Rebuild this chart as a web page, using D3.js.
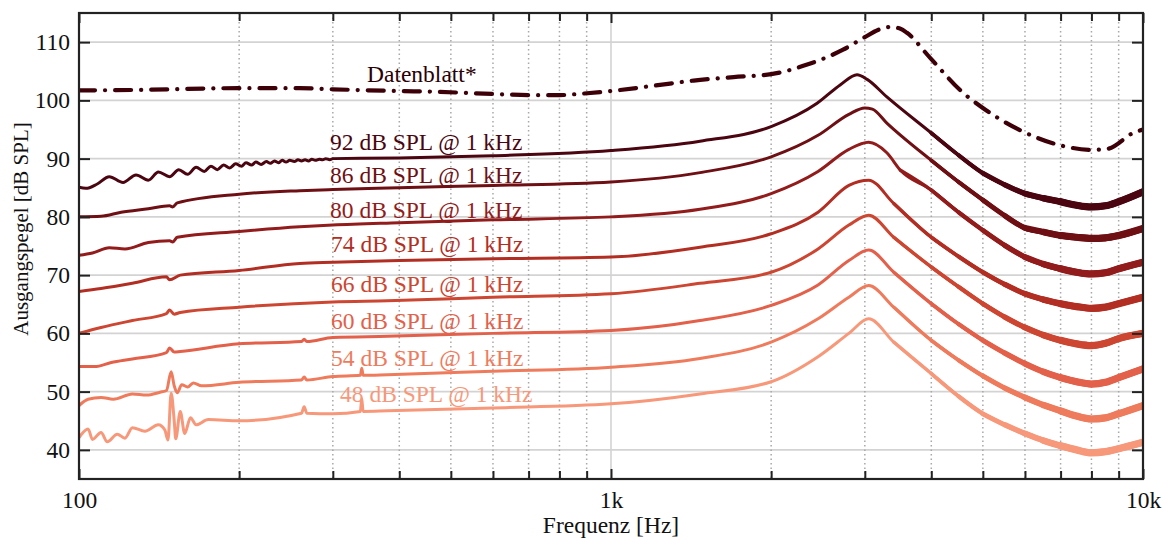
<!DOCTYPE html>
<html>
<head>
<meta charset="utf-8">
<script src="https://cdn.jsdelivr.net/npm/d3@7"></script>
<style>
  html, body { margin: 0; padding: 0; background: #fff; }
  svg { display: block; font-family: "Liberation Serif", "Times New Roman", serif; }
</style>
</head>
<body>
<svg id="chart" width="1165" height="540"></svg>
<script>
// ---------------- data ----------------
const xMajorTicks = [100, 1000, 10000];
const xMajorLabels = ["100", "1k", "10k"];
const xMinorTicks = [200, 300, 400, 500, 600, 700, 800, 900, 2000, 3000, 4000, 5000, 6000, 7000, 8000, 9000];
const yTicks = [40, 50, 60, 70, 80, 90, 100, 110];

const datenblatt = [[100,101.7],[130,101.8],[200,102.1],[260,102.1],[300,101.9],[400,101.6],[460,101.5],[600,101.1],[714,100.9],[800,100.9],[866,101.1],[1000,101.6],[1200,102.5],[1430,103.4],[1700,104.0],[2000,104.5],[2330,106.1],[2730,108.7],[2980,110.7],[3200,112.2],[3350,112.6],[3500,112.3],[3600,111.6],[3980,107.3],[4590,101.3],[5000,98.7],[5870,94.9],[6980,92.3],[8050,91.5],[8600,91.7],[9580,94.4],[10000,95.0]];

const spl92 = [[100,85.1],[103,84.9],[108,85.6],[114,86.9],[121,85.9],[128,87.2],[135,86.3],[141,87.7],[148,86.9],[154,88.1],[160,87.3],[166,88.5],[172,87.8],[177,88.7],[182,88.1],[187,88.9],[192,88.4],[197,89.1],[202,88.7],[206,89.3],[211,88.9],[215,89.4],[220,89.0],[225,89.5],[229,89.2],[233,89.6],[237,89.3],[241,89.7],[245,89.4],[249,89.7],[254,89.5],[258,89.8],[262,89.6],[266,89.8],[270,89.6],[274,89.9],[278,89.7],[283,89.9],[287,89.8],[291,90.0],[296,89.8],[300,90.0],[400,90.1],[600,90.5],[1000,91.4],[1470,93.0],[2000,95.5],[2440,99.5],[2700,102.7],[2900,104.4],[3030,103.6],[3300,100.6],[4000,94.4],[4500,90.6],[5000,87.5],[5500,85.5],[6000,84.0],[6500,83.2],[7000,82.6],[7500,82.0],[8000,81.7],[8500,81.9],[9000,82.6],[10000,84.3]];

const spl86 = [[100,80.0],[110,80.1],[120,80.8],[135,81.4],[148,81.9],[150,81.7],[153,82.4],[200,83.9],[260,84.5],[300,84.7],[400,85.0],[600,85.4],[1000,86.0],[1470,87.6],[2000,90.3],[2450,94.0],[2800,97.6],[3000,98.7],[3100,98.5],[3300,96.1],[4000,89.7],[4500,86.0],[5000,82.9],[5500,80.2],[6000,78.1],[6500,77.4],[7000,76.8],[7500,76.5],[8000,76.3],[8500,76.4],[9000,76.8],[10000,78.0]];

const spl80 = [[100,73.4],[106,73.8],[114,74.7],[122,74.5],[135,75.6],[148,75.9],[150,75.7],[153,76.5],[200,77.5],[260,78.3],[300,78.6],[400,79.0],[600,79.5],[1000,80.0],[1470,81.3],[2000,84.0],[2450,87.8],[2800,91.6],[3050,92.8],[3300,91.0],[3500,88.0],[4000,84.6],[4500,80.8],[5000,77.7],[5500,75.1],[6000,73.1],[6500,71.9],[7000,71.1],[7500,70.5],[8000,70.2],[8500,70.4],[9000,71.1],[10000,72.2]];

const spl74 = [[100,67.2],[110,67.7],[126,68.6],[146,69.7],[148,69.2],[155,70.0],[200,70.8],[260,72.0],[300,72.2],[400,72.5],[600,72.8],[1000,73.1],[1470,74.8],[2000,77.1],[2450,80.8],[2800,85.4],[3050,86.3],[3400,82.3],[4000,76.5],[4500,73.2],[5000,70.5],[5500,68.4],[6000,66.8],[6500,65.8],[7000,65.1],[7500,64.6],[8000,64.3],[8500,64.5],[9000,65.1],[10000,66.2]];

const spl66 = [[100,60.0],[110,61.0],[126,62.2],[146,63.4],[148,64.0],[151,63.3],[155,63.6],[200,64.5],[300,65.4],[380,65.6],[600,66.2],[1000,66.8],[1470,68.6],[2000,70.5],[2450,74.5],[2800,78.6],[3050,80.3],[3400,76.5],[4000,71.4],[4500,68.0],[5000,65.1],[5500,62.8],[6000,61.0],[6500,59.7],[7000,58.8],[7500,58.2],[8000,57.9],[8500,58.3],[9000,59.1],[10000,60.0]];

const spl60 = [[100,54.3],[107,54.3],[115,55.0],[126,55.6],[146,56.7],[148,57.5],[151,56.8],[155,56.9],[200,58.2],[262,58.6],[265,59.0],[268,58.6],[300,59.3],[380,59.5],[600,60.0],[1000,60.5],[1470,62.2],[2000,64.8],[2450,68.3],[2800,72.5],[3050,74.3],[3400,70.5],[4000,65.1],[4500,61.6],[5000,58.8],[5500,56.6],[6000,54.8],[6500,53.4],[7000,52.4],[7500,51.7],[8000,51.3],[8500,51.6],[9000,52.4],[10000,53.9]];

const spl54 = [[100,47.6],[104,48.7],[110,49.0],[116,48.7],[126,49.6],[134,49.4],[142,49.9],[146,50.2],[149,53.4],[151,51.0],[153,49.8],[156,51.2],[160,50.8],[164,51.5],[170,51.0],[200,51.6],[262,52.0],[265,52.5],[268,52.0],[300,52.6],[338,52.8],[340,54.0],[342,52.8],[380,52.9],[600,53.5],[1000,54.2],[1470,55.7],[2000,58.5],[2450,62.5],[2800,66.2],[3050,68.2],[3400,64.5],[4000,58.8],[4500,55.4],[5000,52.7],[5500,50.6],[6000,49.0],[6500,47.7],[7000,46.7],[7500,45.8],[8000,45.3],[8500,45.5],[9000,46.2],[10000,47.6]];

const spl48 = [[100,42.1],[104,43.6],[106,41.8],[110,43.0],[113,41.4],[118,42.7],[122,42.0],[126,43.8],[133,43.2],[141,44.3],[145,43.4],[147,41.7],[149,49.7],[151,45.0],[152,41.9],[155,46.6],[158,42.8],[162,45.5],[166,44.3],[175,45.2],[200,45.0],[262,46.3],[265,47.4],[268,46.3],[300,46.2],[338,46.6],[340,48.8],[342,46.6],[380,46.7],[600,47.2],[1000,47.9],[1470,49.6],[2000,51.7],[2450,56.0],[2800,60.0],[3050,62.5],[3400,58.5],[4000,53.1],[4500,49.2],[5000,46.2],[5500,44.3],[6000,42.8],[6500,41.6],[7000,40.7],[7500,40.0],[8000,39.5],[8500,39.7],[9000,40.2],[10000,41.3]];

const seriesNames = ["92 dB SPL @ 1 kHz", "86 dB SPL @ 1 kHz", "80 dB SPL @ 1 kHz", "74 dB SPL @ 1 kHz",
                     "66 dB SPL @ 1 kHz", "60 dB SPL @ 1 kHz", "54 dB SPL @ 1 kHz", "48 dB SPL @ 1 kHz"];
const seriesData = [spl92, spl86, spl80, spl74, spl66, spl60, spl54, spl48];
const datenblattName = "Datenblatt*";

// ---------------- styles / layout ----------------
const seriesColors = ["#4a0510", "#6e0f14", "#921b1b", "#b22e23", "#cc4632", "#e3604a", "#ef7b5d", "#f7987a"];
const datenblattColor = "#3d0008";
const labelPos = [[330,150],[330,183],[330,218],[331,252],[331,292],[331,329],[331,366],[340,402]];
const datenblattPos = [367, 82];
// measured thickness of the noisy high-frequency band (from frequency, stroke width)
const noiseBands = [[3400, 3.3], [4000, 3.7], [4500, 4.2], [5000, 4.8], [5500, 5.4], [6000, 6.0], [6500, 6.6], [7000, 7.2]];

const W = 1165, H = 540;
const m = { left: 79, right: W - 1143, top: 13, bottom: H - 479 };
const iw = W - m.left - m.right, ih = H - m.top - m.bottom;
const FONT = 23.5;

const svg = d3.select("#chart");
const g = svg.append("g").attr("transform", `translate(${m.left},${m.top})`);

const x = d3.scaleLog().domain([100, 10000]).range([0, iw]);
const y = d3.scaleLinear().domain([35, 115]).range([ih, 0]);

// grid
g.append("g").selectAll("line").data(yTicks).join("line")
  .attr("x1", 0).attr("x2", iw).attr("y1", d => y(d)).attr("y2", d => y(d))
  .attr("stroke", "#d3d3d3").attr("stroke-width", 1.6);
g.append("g").selectAll("line").data(xMinorTicks).join("line")
  .attr("x1", d => x(d)).attr("x2", d => x(d)).attr("y1", 0).attr("y2", ih)
  .attr("stroke", "#a8a8a8").attr("stroke-width", 1.5).attr("stroke-dasharray", "1.5,3");
g.append("line").attr("x1", x(1000)).attr("x2", x(1000)).attr("y1", 0).attr("y2", ih)
  .attr("stroke", "#d3d3d3").attr("stroke-width", 1.6);

// clip
svg.append("defs").append("clipPath").attr("id", "clip")
  .append("rect").attr("x", 0).attr("y", 0).attr("width", iw).attr("height", ih);

const line = d3.line().x(d => x(d[0])).y(d => y(d[1])).curve(d3.curveMonotoneX);
const curves = g.append("g").attr("clip-path", "url(#clip)");

seriesData.forEach((s, i) => {
  curves.append("path").datum(s).attr("d", line)
    .attr("fill", "none").attr("stroke", seriesColors[i]).attr("stroke-width", 3)
    .attr("stroke-linejoin", "round").attr("stroke-linecap", "round");
  noiseBands.forEach(([f0, w]) => {
    curves.append("path").datum(s.filter(d => d[0] >= f0)).attr("d", line)
      .attr("fill", "none").attr("stroke", seriesColors[i]).attr("stroke-width", w)
      .attr("stroke-linejoin", "round").attr("stroke-linecap", "round");
  });
});
curves.append("path").datum(datenblatt).attr("d", line)
  .attr("fill", "none").attr("stroke", datenblattColor).attr("stroke-width", 4.2)
  .attr("stroke-linecap", "round").attr("stroke-dasharray", "16,10,0.1,10");

// curve labels
seriesNames.forEach((name, i) => {
  svg.append("text").attr("x", labelPos[i][0]).attr("y", labelPos[i][1])
    .attr("fill", seriesColors[i]).attr("font-size", FONT).text(name);
});
svg.append("text").attr("x", datenblattPos[0]).attr("y", datenblattPos[1])
  .attr("fill", "#2a0006").attr("font-size", FONT).text(datenblattName);

// axes
const allX = xMajorTicks.concat(xMinorTicks);
const isMajor = d => xMajorTicks.includes(d);
const fmtX = d => isMajor(d) ? xMajorLabels[xMajorTicks.indexOf(d)] : "";

const xb = g.append("g").attr("transform", `translate(0,${ih})`)
  .call(d3.axisBottom(x).tickValues(allX).tickFormat(fmtX).tickSizeInner(-8).tickSizeOuter(0).tickPadding(12));
const xt = g.append("g")
  .call(d3.axisTop(x).tickValues(allX).tickFormat("").tickSizeInner(-8).tickSizeOuter(0));
const yl = g.append("g")
  .call(d3.axisLeft(y).tickValues(yTicks).tickSizeInner(-11).tickSizeOuter(0).tickPadding(9));
const yr = g.append("g").attr("transform", `translate(${iw},0)`)
  .call(d3.axisRight(y).tickValues(yTicks).tickFormat("").tickSizeInner(-11).tickSizeOuter(0));

[xb, xt, yl, yr].forEach(a => {
  a.select(".domain").remove();
  a.selectAll(".tick line").attr("stroke", "#222").attr("stroke-width", 2);
  a.selectAll(".tick text").attr("fill", "#111").attr("font-size", FONT)
    .attr("font-family", "\"Liberation Serif\", \"Times New Roman\", serif");
});
xb.selectAll(".tick line").attr("y2", d => isMajor(d) ? -10 : -8);
xt.selectAll(".tick line").attr("y2", d => isMajor(d) ? 10 : 8);

// frame
g.append("rect").attr("x", 0).attr("y", 0).attr("width", iw).attr("height", ih)
  .attr("fill", "none").attr("stroke", "#222").attr("stroke-width", 2.2);

// axis titles
svg.append("text").attr("x", m.left + iw / 2).attr("y", 533)
  .attr("text-anchor", "middle").attr("font-size", FONT).attr("fill", "#111").text("Frequenz [Hz]");
svg.append("text").attr("transform", "translate(28,229) rotate(-90)")
  .attr("text-anchor", "middle").attr("font-size", FONT - 2.5).attr("fill", "#111").text("Ausgangspegel [dB SPL]");
</script>
</body>
</html>
